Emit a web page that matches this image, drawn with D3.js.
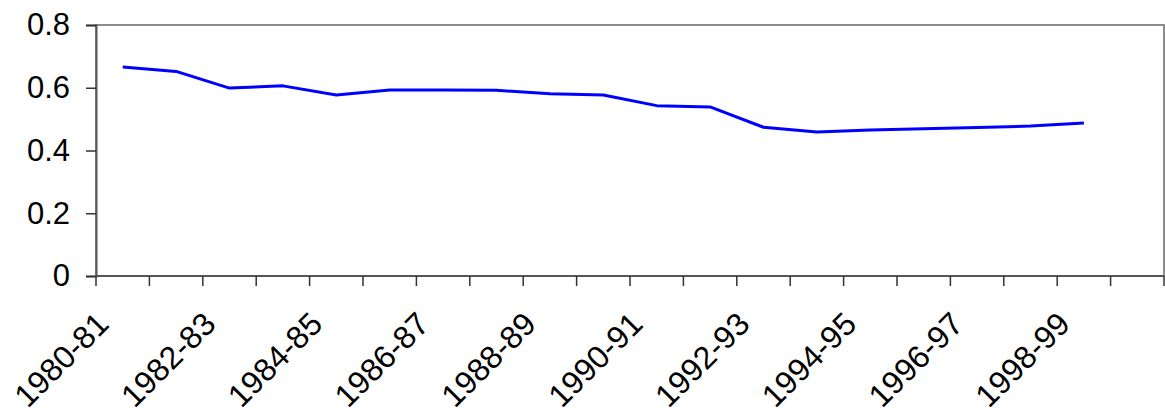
<!DOCTYPE html>
<html><head><meta charset="utf-8">
<script src="https://cdn.jsdelivr.net/npm/d3@7"></script>
<style>body{margin:0;background:#fff}svg{display:block}</style>
</head><body><svg id="c" width="1165" height="413"></svg>
<script>
const categories = ["1980-81","1981-82","1982-83","1983-84","1984-85","1985-86","1986-87","1987-88","1988-89","1989-90","1990-91","1991-92","1992-93","1993-94","1994-95","1995-96","1996-97","1997-98","1998-99","1999-00"];
const values = [0.666,0.652,0.599,0.606,0.577,0.593,0.593,0.592,0.581,0.577,0.543,0.539,0.474,0.459,0.465,0.469,0.473,0.478,0.488,null];
const yTicks = [0,0.2,0.4,0.6,0.8];
const xLabels = ["1980-81","1982-83","1984-85","1986-87","1988-89","1990-91","1992-93","1994-95","1996-97","1998-99"];

const svg = d3.select("#c");
const m = {l:96, t:25, r:1164, b:276};
const x = d3.scaleBand().domain(categories).range([m.l, m.r]);
const y = d3.scaleLinear().domain([0,0.8]).range([m.b, m.t]);
const font = "'Liberation Sans', Arial, sans-serif";

// plot border
svg.append("rect").attr("x",m.l).attr("y",m.t).attr("width",m.r-m.l).attr("height",m.b-m.t)
  .attr("fill","none").attr("stroke","#8c8c8c").attr("stroke-width",2);

// y axis
const ya = svg.append("g").attr("transform",`translate(${m.l},0)`)
  .call(d3.axisLeft(y).tickValues(yTicks).tickSize(10).tickPadding(16).tickFormat(d=>d===0?"0":d3.format(".1f")(d)));
ya.select(".domain").attr("stroke","#555").attr("stroke-width",2);
ya.selectAll(".tick line").attr("stroke","#333").attr("stroke-width",1.5);
ya.selectAll("text").attr("font-family",font).attr("font-size",31).attr("fill","#000");

// x axis with ticks between categories
const xa = svg.append("g").attr("transform",`translate(0,${m.b})`);
xa.append("line").attr("x1",m.l).attr("x2",m.r).attr("stroke","#555").attr("stroke-width",2);
const edges = categories.map(c=>x(c)).concat([m.r]);
xa.selectAll("line.t").data(edges).enter().append("line").attr("class","t")
  .attr("x1",d=>d).attr("x2",d=>d).attr("y1",0).attr("y2",10).attr("stroke","#333").attr("stroke-width",1.5);
xa.selectAll("text").data(xLabels).enter().append("text")
  .attr("transform",d=>`translate(${x(d)+x.bandwidth()/2-29},33) rotate(-45)`)
  .attr("text-anchor","end").attr("dy","0.75em")
  .attr("font-family",font).attr("font-size",32).attr("fill","#000").text(d=>d);

// line
const line = d3.line().defined(d=>d.v!=null).x(d=>x(d.c)+x.bandwidth()/2).y(d=>y(d.v));
svg.append("path").datum(categories.map((c,i)=>({c,v:values[i]})))
  .attr("d",line).attr("fill","none").attr("stroke","#0000ff").attr("stroke-width",3).attr("stroke-linejoin","round");
</script></body></html>
